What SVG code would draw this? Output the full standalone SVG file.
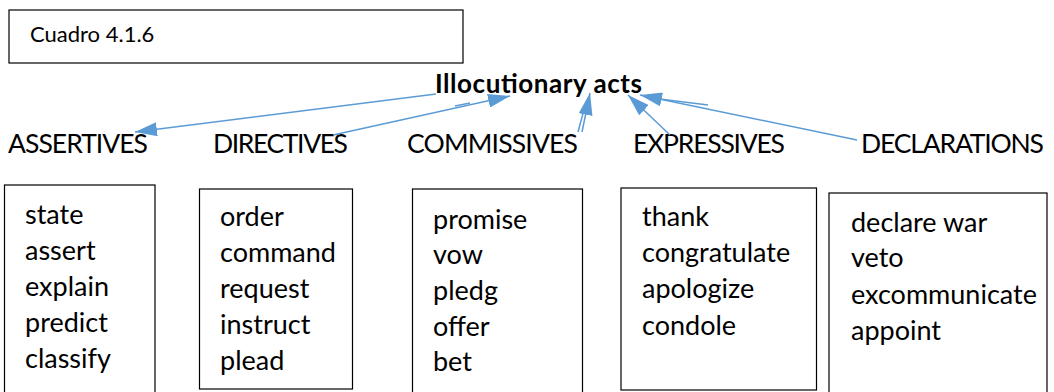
<svg xmlns="http://www.w3.org/2000/svg" width="1054" height="392" viewBox="0 0 1054 392">
<style>
  text { font-family: Lato, "Liberation Sans", sans-serif; fill: #000; }
  .lbl { font-size: 26.5px; }
  .item { font-size: 27px; }
  .title { font-size: 26px; font-weight: bold; }
  .box { fill: #fff; stroke: #000; stroke-width: 1.2; }
  .conn { stroke: #5B9BD5; stroke-width: 1.5; fill: none; }
</style>
<defs>
  <marker id="ah" viewBox="0 0 22 14" refX="22" refY="7" markerWidth="22" markerHeight="14" markerUnits="userSpaceOnUse" orient="auto">
    <path d="M0,0 L22,7 L0,14 z" fill="#5B9BD5"/>
  </marker>
</defs>
<rect width="1054" height="392" fill="#fff"/>

<g id="cuadro">
  <rect class="box" x="9" y="10" width="454" height="53"/>
  <text x="30" y="42" style="font-size:22px">Cuadro 4.1.6</text>
</g>

<g id="illocutionary">
  <text class="title" x="435" y="93" textLength="207">Illocutionary acts</text>
</g>

<g id="assertives">
  <text class="lbl" x="8" y="153" textLength="140">ASSERTIVES</text>
</g>
<g id="directives">
  <text class="lbl" x="213" y="153" textLength="135">DIRECTIVES</text>
</g>
<g id="commissives">
  <text class="lbl" x="407" y="153" textLength="171">COMMISSIVES</text>
</g>
<g id="expressives">
  <text class="lbl" x="633" y="153" textLength="152">EXPRESSIVES</text>
</g>
<g id="declarations">
  <text class="lbl" x="861" y="153" textLength="183">DECLARATIONS</text>
</g>

<g id="box-assertives">
  <rect class="box" x="4.5" y="185" width="150.5" height="220"/>
  <text class="item" x="25" y="224">state</text>
  <text class="item" x="25" y="260">assert</text>
  <text class="item" x="25" y="296">explain</text>
  <text class="item" x="25" y="332">predict</text>
  <text class="item" x="25" y="368">classify</text>
</g>
<g id="box-directives">
  <rect class="box" x="199.5" y="189" width="153" height="200"/>
  <text class="item" x="220" y="226">order</text>
  <text class="item" x="220" y="262">command</text>
  <text class="item" x="220" y="298">request</text>
  <text class="item" x="220" y="334">instruct</text>
  <text class="item" x="220" y="370">plead</text>
</g>
<g id="box-commissives">
  <rect class="box" x="412.5" y="189" width="170" height="220"/>
  <text class="item" x="433" y="229">promise</text>
  <text class="item" x="433" y="264">vow</text>
  <text class="item" x="433" y="300">pledg</text>
  <text class="item" x="433" y="336">offer</text>
  <text class="item" x="433" y="371">bet</text>
</g>
<g id="box-expressives">
  <rect class="box" x="621" y="188" width="195.5" height="202"/>
  <text class="item" x="642" y="226">thank</text>
  <text class="item" x="642" y="262">congratulate</text>
  <text class="item" x="642" y="298">apologize</text>
  <text class="item" x="642" y="335">condole</text>
</g>
<g id="box-declarations">
  <rect class="box" x="829" y="193" width="218" height="220"/>
  <text class="item" x="851" y="232">declare war</text>
  <text class="item" x="851" y="267">veto</text>
  <text class="item" x="851" y="304">excommunicate</text>
  <text class="item" x="851" y="340">appoint</text>
</g>

<g id="connectors">
  <line class="conn" x1="436" y1="94" x2="135" y2="132" marker-end="url(#ah)"/>
  <line class="conn" x1="333" y1="135" x2="510" y2="96" marker-end="url(#ah)"/>
  <line class="conn" x1="455" y1="106" x2="470" y2="103"/>
  <line class="conn" x1="578" y1="132" x2="585" y2="106"/>
  <line class="conn" x1="582" y1="132" x2="590" y2="93" marker-end="url(#ah)"/>
  <line class="conn" x1="670" y1="135" x2="628" y2="95" stroke-width="2.2" marker-end="url(#ah)"/>
  <line class="conn" x1="857" y1="140" x2="640" y2="95" marker-end="url(#ah)"/>
  <line class="conn" x1="652" y1="98" x2="708" y2="105"/>
</g>
</svg>
